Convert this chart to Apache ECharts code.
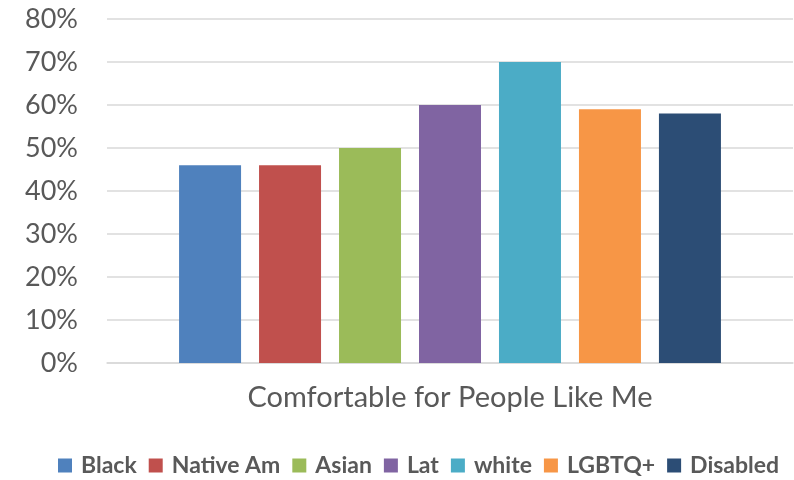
<!DOCTYPE html>
<html lang="en">
<head>
    <meta charset="UTF-8">
    <title>Comfortable for People Like Me</title>
    <script src="https://cdn.jsdelivr.net/npm/echarts@6.0.0/dist/echarts.min.js"></script>
    <style>
        html, body { margin: 0; padding: 0; background: #fff; }
        #chart { width: 794px; height: 480px; }
    </style>
</head>
<body>
<div id="chart"></div>
<script>
const categories = ['Comfortable for People Like Me'];
const groups = ['Black', 'Native Am', 'Asian', 'Lat', 'white', 'LGBTQ+', 'Disabled'];
const values = [46, 46, 50, 60, 70, 59, 58];
const colors = ['#4F81BD', '#C0504D', '#9BBB59', '#8064A2', '#4BACC6', '#F79646', '#2C4D75'];

const textColor = '#595959';
const fontFamily = 'Lato, "Open Sans", sans-serif';

const series = groups.map((name, i) => ({
    name: name,
    type: 'bar',
    data: [values[i]],
    barWidth: 62,
    barGap: '29%',
    itemStyle: { color: colors[i] }
}));

const chart = echarts.init(document.getElementById('chart'));
chart.setOption({
    animation: false,
    textStyle: { fontFamily: fontFamily },
    grid: { left: 107, right: 1, top: 19, bottom: 117, containLabel: false },
    legend: {
        left: 58,
        top: 454,
        width: 736,
        padding: 0,
        itemWidth: 14,
        itemHeight: 14,
        itemGap: 12,
        icon: 'rect',
        textStyle: { color: textColor, fontSize: 23, fontWeight: 'bold', fontFamily: fontFamily, padding: [0, 0, 0, 4] },
        data: groups
    },
    xAxis: {
        type: 'category',
        data: categories,
        axisLine: { lineStyle: { color: '#D9D9D9', width: 1.5 } },
        axisTick: { show: false },
        axisLabel: { color: textColor, fontSize: 29, margin: 20 }
    },
    yAxis: {
        type: 'value',
        min: 0,
        max: 80,
        interval: 10,
        axisLine: { show: false },
        axisTick: { show: false },
        axisLabel: { color: textColor, fontSize: 27, margin: 29, formatter: '{value}%' },
        splitLine: { lineStyle: { color: '#D9D9D9', width: 1.5 } }
    },
    series: series
});
</script>
</body>
</html>
